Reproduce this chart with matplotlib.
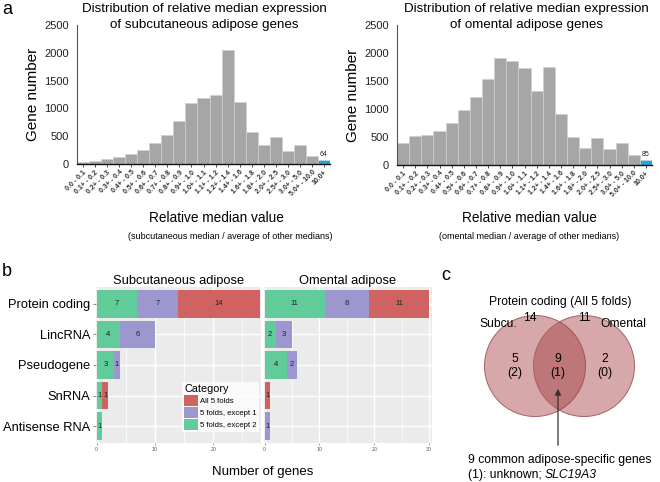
import matplotlib
matplotlib.use("Agg")
import matplotlib.pyplot as plt
from matplotlib.patches import Circle, Patch
import numpy as np

plt.rcParams['font.family'] = ['Liberation Sans', 'DejaVu Sans']

# ---------------- data ----------------
bins = ["0.0 - 0.1", "0.1+ - 0.2", "0.2+ - 0.3", "0.3+ - 0.4", "0.4+ - 0.5",
        "0.5+ - 0.6", "0.6+ - 0.7", "0.7+ - 0.8", "0.8+ - 0.9", "0.9+ - 1.0",
        "1.0+ - 1.1", "1.1+ - 1.2", "1.2+ - 1.4", "1.4+ - 1.6", "1.6+ - 1.8",
        "1.8+ - 2.0", "2.0+ - 2.5", "2.5+ - 3.0", "3.0+ - 5.0", "5.0+ - 10.0",
        "10.0+"]
subq_counts = [30, 55, 85, 120, 180, 252, 372, 516, 773, 1091, 1187, 1247,
               2045, 1121, 570, 336, 486, 240, 342, 150, 64]
oment_counts = [400, 510, 540, 600, 750, 980, 1214, 1530, 1911, 1857, 1738,
                1315, 1744, 911, 500, 300, 488, 290, 392, 175, 85]

gene_types = ["Protein coding", "LincRNA", "Pseudogene", "SnRNA", "Antisense RNA"]
categories = ["5 folds, except 2", "5 folds, except 1", "All 5 folds"]
sub_except2 = [7, 4, 3, 1, 1]
sub_except1 = [7, 6, 1, 0, 0]
sub_all5 = [14, 0, 0, 1, 0]
om_except2 = [11, 2, 4, 0, 0]
om_except1 = [8, 3, 2, 0, 1]
om_all5 = [11, 0, 0, 1, 0]

venn_sub_total = 14
venn_om_total = 11
venn_sub_only = 5
venn_common = 9
venn_om_only = 2
venn_sub_only_unk = 2
venn_common_unk = 1
venn_om_only_unk = 0

# ---------------- layout helpers ----------------
W, H = 660, 482
fig = plt.figure(figsize=(W / 100, H / 100), dpi=100)


def ax_px(x0, y0, x1, y1):
    return fig.add_axes([x0 / W, 1 - y1 / H, (x1 - x0) / W, (y1 - y0) / H])


def ftext(x, y, s, **kw):
    return fig.text(x / W, 1 - y / H, s, **kw)


# ---------------- panel a ----------------
gray = "#a6a6a6"
blue = "#1fa8e0"


def hist_panel(ax, counts, label_val):
    x = np.arange(len(bins))
    colors = [gray] * (len(bins) - 1) + [blue]
    ax.bar(x, counts, width=1.0, color=colors, edgecolor="#d0d0d0", linewidth=0.5)
    ax.set_xlim(-0.5, len(bins) - 0.5)
    ax.set_ylim(0, 2500)
    ax.set_yticks([0, 500, 1000, 1500, 2000, 2500])
    ax.tick_params(axis="y", labelsize=8, length=0, pad=6, labelcolor="#222222")
    ax.set_xticks(x)
    ax.set_xticklabels(bins, rotation=45, ha="right", rotation_mode="anchor",
                       fontsize=5, fontweight="bold", color="#333333")
    ax.tick_params(axis="x", length=2, width=0.5, pad=1.5)
    for s in ["top", "right"]:
        ax.spines[s].set_visible(False)
    ax.spines["left"].set_color("#555555")
    ax.spines["bottom"].set_color("#111111")
    ax.spines["bottom"].set_linewidth(1.0)
    ax.set_ylabel("Gene number", fontsize=11, labelpad=3)
    ax.text(x[-1], counts[-1] + 40, str(label_val), ha="center", va="bottom",
            fontsize=5, color="#222222")
    ax.patch.set_alpha(0)


axA1 = ax_px(77, 25, 330, 164)
hist_panel(axA1, subq_counts, subq_counts[-1])
axA2 = ax_px(397, 25, 652, 165)
hist_panel(axA2, oment_counts, oment_counts[-1])

ftext(204, 17, "Distribution of relative median expression\nof subcutaneous adipose genes",
      ha="center", va="center", fontsize=9.6, linespacing=1.35)
ftext(526, 17, "Distribution of relative median expression\nof omental adipose genes",
      ha="center", va="center", fontsize=9.6, linespacing=1.35)
ftext(216, 218, "Relative median value", ha="center", va="center", fontsize=9.8)
ftext(230, 236, "(subcutaneous median / average of other medians)",
      ha="center", va="center", fontsize=6.5)
ftext(529, 218, "Relative median value", ha="center", va="center", fontsize=9.8)
ftext(529, 236, "(omental median / average of other medians)",
      ha="center", va="center", fontsize=6.5)
ftext(2, 10, "a", ha="left", va="center", fontsize=13)

# ---------------- panel b ----------------
c_red = "#d06262"
c_purple = "#9c98cf"
c_green = "#62cb9a"
seg_colors = [c_green, c_purple, c_red]
panel_bg = "#ebebeb"


def facet(ax, segs, xmax, ticks, show_y):
    y = np.arange(len(gene_types))
    left = np.zeros(len(gene_types))
    ax.set_facecolor(panel_bg)
    for minor in [5, 15, 25]:
        if minor < xmax:
            ax.axvline(minor, color="white", lw=0.5, zorder=0)
    for t in ticks:
        ax.axvline(t, color="white", lw=1.0, zorder=0)
    for yy in y:
        ax.axhline(yy, color="white", lw=1.0, zorder=0)
    for vals, col in zip(segs, seg_colors):
        vals = np.array(vals)
        ax.barh(y, vals, left=left, height=0.9, color=col, zorder=2)
        for yy, l, v in zip(y, left, vals):
            if v > 0:
                ax.text(l + v / 2, yy, str(v), ha="center", va="center",
                        fontsize=5.5, color="#222222", zorder=3)
        left = left + vals
    ax.set_xlim(-0.1, xmax)
    ax.set_ylim(len(gene_types) - 0.45, -0.55)
    ax.set_xticks(ticks)
    ax.set_xticklabels([str(t) for t in ticks])
    ax.tick_params(axis="x", labelsize=3.8, length=1.5, width=0.4,
                   colors="#555555", pad=1.5)
    ax.set_yticks(y)
    if show_y:
        ax.set_yticklabels(gene_types, fontsize=9.3)
        ax.tick_params(axis="y", length=2, width=0.5, colors="#555555",
                       labelcolor="black", pad=2)
    else:
        ax.set_yticklabels([])
        ax.tick_params(axis="y", length=0)
    for s in ax.spines.values():
        s.set_visible(False)


axB1 = ax_px(96, 287, 261, 443)
facet(axB1, [sub_except2, sub_except1, sub_all5], 28.2, [0, 10, 20], True)
axB2 = ax_px(264, 287, 432, 443)
facet(axB2, [om_except2, om_except1, om_all5], 30.5, [0, 10, 20, 30], False)

ftext(179, 281, "Subcutaneous adipose", ha="center", va="center", fontsize=9.3)
ftext(348, 281, "Omental adipose", ha="center", va="center", fontsize=9.3)
ftext(263, 472, "Number of genes", ha="center", va="center", fontsize=9.5)
ftext(2, 272, "b", ha="left", va="center", fontsize=13)

handles = [Patch(facecolor=c_red, label="All 5 folds"),
           Patch(facecolor=c_purple, label="5 folds, except 1"),
           Patch(facecolor=c_green, label="5 folds, except 2")]
leg = fig.legend(handles=handles, title="Category", loc="upper left",
                 bbox_to_anchor=(182 / W, 1 - 382 / H), fontsize=5.6,
                 title_fontsize=7.8, frameon=True, fancybox=False,
                 handlelength=1.7, handleheight=1.8, handletextpad=0.3,
                 labelspacing=0.12, borderpad=0.3, borderaxespad=0)
leg.get_frame().set_edgecolor("white")
leg.get_frame().set_linewidth(0)
leg._legend_box.align = "left"

# ---------------- panel c ----------------
axC = ax_px(440, 280, 660, 482)
axC.set_xlim(440, 660)
axC.set_ylim(482, 280)
axC.axis("off")
venn_color = (160 / 255, 55 / 255, 58 / 255)
for cx in [535, 584]:
    axC.add_patch(Circle((cx, 366), 50.5, facecolor=venn_color, alpha=0.43,
                         edgecolor="none"))
    axC.add_patch(Circle((cx, 366), 50.5, facecolor="none",
                         edgecolor="#a86066", lw=0.7))

axC.text(560, 302, "Protein coding (All 5 folds)", ha="center", va="center", fontsize=8.7)
axC.text(530, 318, str(venn_sub_total), ha="center", va="center", fontsize=8.7)
axC.text(584, 318, str(venn_om_total), ha="center", va="center", fontsize=8.7)
axC.text(498, 324, "Subcu.", ha="center", va="center", fontsize=8.7)
axC.text(623, 324, "Omental", ha="center", va="center", fontsize=8.7)
axC.text(515, 366, f"{venn_sub_only}\n({venn_sub_only_unk})", ha="center",
         va="center", fontsize=8.7, linespacing=1.15)
axC.text(558, 366, f"{venn_common}\n({venn_common_unk})", ha="center",
         va="center", fontsize=8.7, linespacing=1.15)
axC.text(605, 366, f"{venn_om_only}\n({venn_om_only_unk})", ha="center",
         va="center", fontsize=8.7, linespacing=1.15)
axC.annotate("", xy=(558, 386), xytext=(558, 448),
             arrowprops=dict(arrowstyle="-|>", color="#333333", lw=0.9,
                             mutation_scale=9))
axC.text(468, 460, f"{venn_common} common adipose-specific genes", ha="left",
         va="center", fontsize=8.7)
t1 = axC.text(468, 475, f"({venn_common_unk}): unknown; ", ha="left",
              va="center", fontsize=8.7)
renderer = fig.canvas.get_renderer()
bb = t1.get_window_extent(renderer=renderer)
x_end = axC.transData.inverted().transform((bb.x1, bb.y0))[0]
axC.text(x_end, 475, "SLC19A3", ha="left", va="center", fontsize=8.7,
         fontstyle="italic")
ftext(441, 275, "c", ha="left", va="center", fontsize=13)

fig.savefig("out.png", dpi=100)
